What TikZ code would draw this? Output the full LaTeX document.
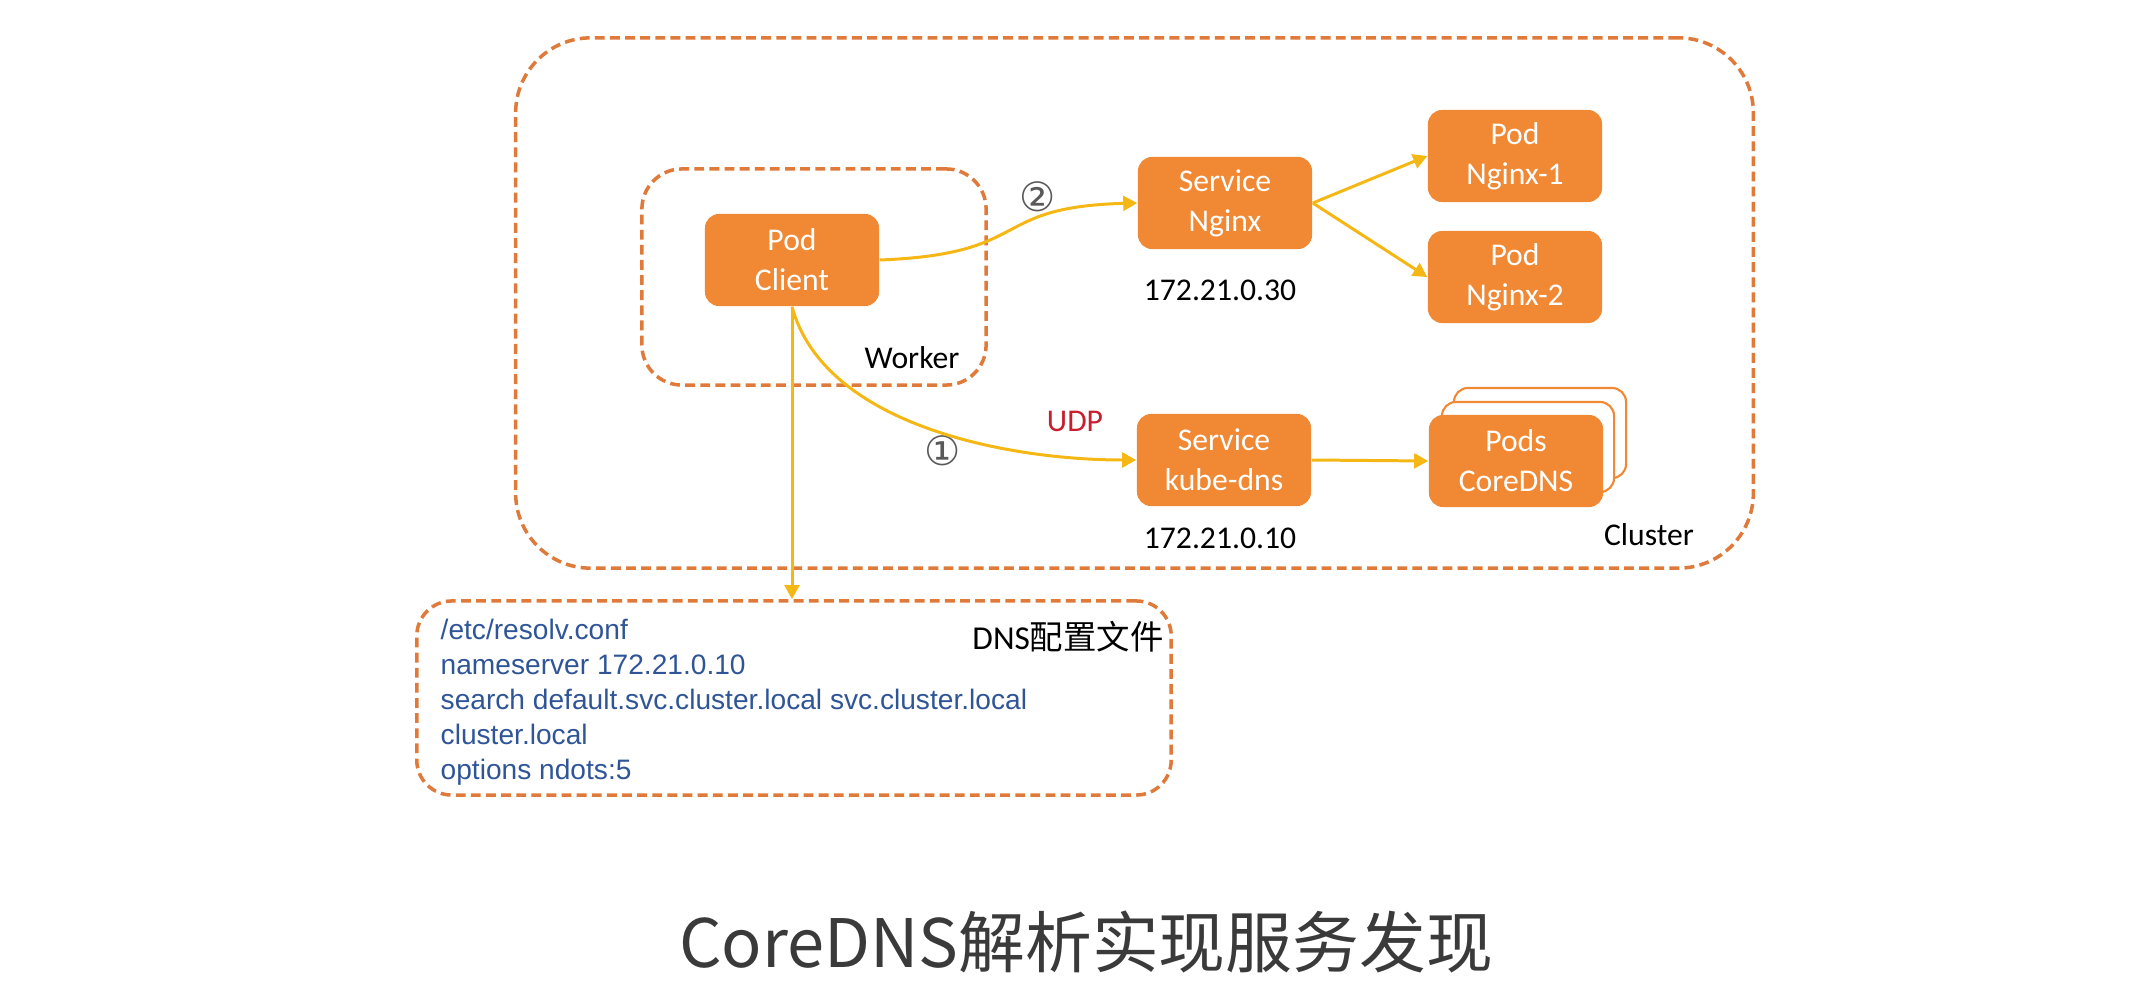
\documentclass[tikz,border=0pt]{standalone}
\usepackage{fontspec}
\setmainfont{Carlito}
\newfontfamily\cjk{Noto Sans CJK SC}
\newfontfamily\conffont{Liberation Sans}
\newfontfamily\circfont{DejaVu Sans}
\usetikzlibrary{arrows.meta}
\definecolor{podorange}{RGB}{240,136,52}
\definecolor{dashorange}{RGB}{224,122,58}
\definecolor{flowyellow}{RGB}{245,183,20}
\definecolor{confblue}{RGB}{47,85,151}
\definecolor{udpred}{RGB}{200,30,45}
\definecolor{titlegrey}{RGB}{58,58,58}
\tikzset{
	podbox/.style={fill=podorange, rounded corners=0.14cm, minimum width=1.74cm, minimum height=0.92cm, inner sep=0pt, text=white, align=center, font=\fontsize{9}{11.4}\selectfont},
	backbox/.style={draw=podorange, fill=white, line width=0.6pt, rounded corners=0.14cm, minimum width=1.72cm, minimum height=0.90cm, inner sep=0pt},
	zone/.style={draw=dashorange, line width=1pt, dash pattern=on 2.8pt off 1.5pt, inner sep=0pt},
	flow/.style={draw=flowyellow, line width=0.85pt, -{Triangle[length=4pt,width=4.2pt]}},
	tag/.style={font=\fontsize{9}{11}\selectfont},
	circnum/.style={font=\circfont\fontsize{11.5}{11.5}\selectfont, text=black!65},
}

\begin{document}
\begin{tikzpicture}[x=0.01cm, y=-0.01cm]
		%%%%% START %%%%%
		\useasboundingbox (0,0) rectangle (2142,1006);
		
		% dashed zones
		\node[zone, rounded corners=0.75cm, minimum width=12.37cm, minimum height=5.30cm] (cluster) at (1134.5,303) {};
		\node[zone, rounded corners=0.40cm, minimum width=3.44cm, minimum height=2.16cm] (worker) at (814,277) {};
		\node[zone, rounded corners=0.35cm, minimum width=7.54cm, minimum height=1.94cm] (dnsconf) at (794,698) {};
		
		% pods and services
		\node[podbox] (client) at (792,260) {Pod\\Client};
		\node[podbox] (svcnginx) at (1225,203) {Service\\Nginx};
		\node[podbox] (nginx1) at (1515,156) {Pod\\Nginx-1};
		\node[podbox] (nginx2) at (1515,277) {Pod\\Nginx-2};
		\node[podbox] (kubedns) at (1224,460) {Service\\kube-dns};
		
		\node[backbox] (coredns3) at (1540,433) {};
		\node[backbox] (coredns2) at (1528,447) {};
		\node[podbox] (coredns) at (1516,461) {Pods\\CoreDNS};
		
		% labels
		\node[tag] (ipnginx) at (1220,290) {172.21.0.30};
		\node[tag] (ipdns) at (1220,538) {172.21.0.10};
		\node[tag] (workerlabel) at (912,358) {Worker};
		\node[tag] (clusterlabel) at (1649,535) {Cluster};
		\node[tag, text=udpred] (udp) at (1075,421) {UDP};
		\node[circnum] (stepone) at (943,451) {①};
		\node[circnum] (steptwo) at (1038,197) {②};
		
		% connectors
		\draw[flow] (client.east) .. controls +(155,-6) and +(-150,4) .. (svcnginx.west);
		\draw[flow] (svcnginx.east) -- (nginx1.west);
		\draw[flow] (svcnginx.east) -- (nginx2.west);
		\draw[flow] (client.south) .. controls +(32,118) and +(-130,0) .. (kubedns.west);
		\draw[flow] (kubedns.east) -- (coredns.west);
		\draw[flow] (client.south) -- (client.south |- dnsconf.north);
		
		% resolv.conf
		\node[anchor=west, align=left, inner sep=0pt, text=confblue, font=\conffont\fontsize{8}{9.95}\selectfont] (resolv) at (440,702) {/etc/resolv.conf\\nameserver 172.21.0.10\\search default.svc.cluster.local svc.cluster.local\\cluster.local\\options ndots:5};
		\node[font=\fontsize{9.5}{11}\selectfont] (dnstitle) at (1068,637) {DNS{\cjk 配置文件}};
		
		\node[font=\cjk\fontsize{19}{22}\selectfont, text=titlegrey] (title) at (1086,942) {CoreDNS解析实现服务发现};
		%%%%% END %%%%%
\end{tikzpicture}
\end{document}
